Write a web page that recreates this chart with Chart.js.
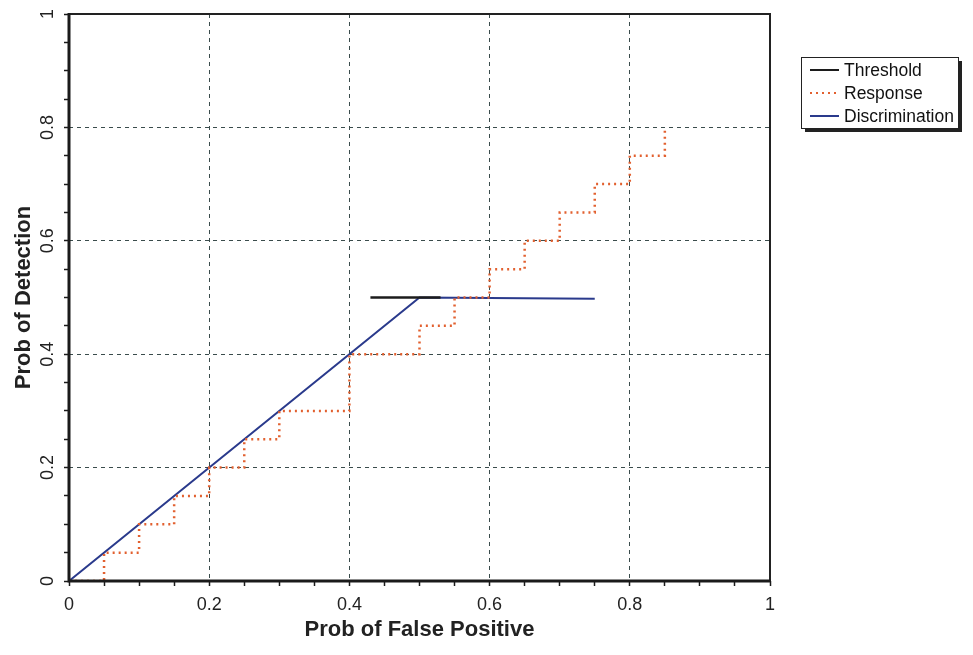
<!DOCTYPE html>
<html>
<head>
<meta charset="utf-8">
<script src="https://cdn.jsdelivr.net/npm/chart.js@4/dist/chart.umd.min.js"></script>
<style>
  body { margin: 0; background: #fff; }
  canvas { display: block; }
</style>
</head>
<body>
<canvas id="rocChart" width="973" height="655"></canvas>
<script>
// values
const seriesNames = ['Threshold', 'Response', 'Discrimination'];

const thresholdX = [0.43, 0.53];
const thresholdY = [0.5, 0.5];

const responseX = [0, 0.05, 0.05, 0.1, 0.1, 0.15, 0.15, 0.2, 0.2, 0.25, 0.25, 0.3, 0.3, 0.4, 0.4,
                   0.5, 0.5, 0.55, 0.55, 0.6, 0.6, 0.65, 0.65, 0.7, 0.7, 0.75, 0.75, 0.8, 0.8, 0.85, 0.85];
const responseY = [0, 0, 0.05, 0.05, 0.1, 0.1, 0.15, 0.15, 0.2, 0.2, 0.25, 0.25, 0.3, 0.3, 0.4,
                   0.4, 0.45, 0.45, 0.5, 0.5, 0.55, 0.55, 0.6, 0.6, 0.65, 0.65, 0.7, 0.7, 0.75, 0.75, 0.8];

const discrimX = [0, 0.5, 0.75];
const discrimY = [0, 0.5, 0.498];

const tickLabelsX = ['0', '0.2', '0.4', '0.6', '0.8', '1'];
const tickLabelsY = ['0', '0.2', '0.4', '0.6', '0.8', '1'];

const FONT = "'Liberation Sans', Arial, sans-serif";

function toPoints(xs, ys) {
    return xs.map((x, i) => ({ x: x, y: ys[i] }));
}

function isMajor(v) {
    const r = v / 0.2;
    return Math.abs(r - Math.round(r)) < 1e-6;
}

function majorLabel(v, labels) {
    if (!isMajor(v)) return '';
    return labels[Math.round(v / 0.2)];
}

function gridColor(ctx) {
    const v = ctx.tick ? ctx.tick.value : 0;
    if (!isMajor(v) || v < 1e-6 || v > 1 - 1e-6) return 'rgba(0,0,0,0)';
    return '#3a4c4c';
}

// axis frame, rotated y tick labels and the boxed legend
const chartDecor = {
    id: 'chartDecor',
    afterDraw(chart) {
        const { ctx, chartArea: a } = chart;
        ctx.save();

        ctx.strokeStyle = '#222';
        ctx.lineWidth = 2;
        ctx.beginPath();
        ctx.moveTo(a.left, a.top);
        ctx.lineTo(a.right, a.top);
        ctx.lineTo(a.right, a.bottom);
        ctx.stroke();

        // heavy left and bottom axis lines
        ctx.strokeStyle = '#1a1a1a';
        ctx.lineWidth = 3;
        ctx.beginPath();
        ctx.moveTo(a.left, a.top - 1);
        ctx.lineTo(a.left, a.bottom);
        ctx.lineTo(a.right + 1, a.bottom);
        ctx.stroke();

        // y tick labels, rotated like the original
        const yScale = chart.scales.y;
        ctx.fillStyle = '#222';
        ctx.font = '18px ' + FONT;
        ctx.textAlign = 'center';
        ctx.textBaseline = 'middle';
        yScale.ticks.forEach(t => {
            const label = majorLabel(t.value, tickLabelsY);
            if (!label) return;
            const py = yScale.getPixelForValue(t.value);
            ctx.save();
            ctx.translate(48, py);
            ctx.rotate(-Math.PI / 2);
            ctx.fillText(label, 0, 0);
            ctx.restore();
        });

        // legend box with drop shadow
        const bx = 801, by = 57, bw = 157, bh = 71;
        ctx.fillStyle = '#222';
        ctx.fillRect(bx + 4, by + 4, bw, bh);
        ctx.fillStyle = '#fff';
        ctx.fillRect(bx, by, bw, bh);
        ctx.strokeStyle = '#222';
        ctx.lineWidth = 1;
        ctx.strokeRect(bx + 0.5, by + 0.5, bw, bh);

        ctx.font = '17.5px ' + FONT;
        ctx.textAlign = 'left';
        chart.data.datasets.forEach((ds, i) => {
            const ly = 70 + i * 23;
            ctx.strokeStyle = ds.borderColor;
            ctx.lineWidth = 2;
            ctx.setLineDash(ds.borderDash || []);
            ctx.beginPath();
            ctx.moveTo(810, ly);
            ctx.lineTo(839, ly);
            ctx.stroke();
            ctx.setLineDash([]);
            ctx.fillStyle = '#111';
            ctx.fillText(ds.label, 844, ly + 1);
        });

        ctx.restore();
    }
};

const gridOpts = {
    color: gridColor,
    lineWidth: 1,
    drawTicks: true,
    tickLength: 5,
    tickColor: '#1a1a1a',
    tickWidth: 1.5,
    tickBorderDash: []
};

new Chart(document.getElementById('rocChart'), {
    type: 'scatter',
    data: {
        datasets: [
            {
                label: seriesNames[0],
                data: toPoints(thresholdX, thresholdY),
                showLine: true,
                borderColor: '#1c1c1c',
                borderWidth: 2.5,
                pointRadius: 0
            },
            {
                label: seriesNames[1],
                data: toPoints(responseX, responseY),
                showLine: true,
                borderColor: '#e2602f',
                borderWidth: 2.5,
                borderDash: [2, 4],
                pointRadius: 0
            },
            {
                label: seriesNames[2],
                data: toPoints(discrimX, discrimY),
                showLine: true,
                borderColor: '#2a3a8c',
                borderWidth: 2,
                pointRadius: 0
            }
        ]
    },
    options: {
        responsive: false,
        animation: false,
        devicePixelRatio: 1,
        layout: { padding: { top: 14, right: 203, left: 0, bottom: 0 } },
        plugins: {
            legend: { display: false },
            tooltip: { enabled: false }
        },
        scales: {
            x: {
                type: 'linear',
                min: 0,
                max: 1,
                afterFit(scale) { scale.height = 74; },
                border: { display: false, dash: [4, 4] },
                grid: gridOpts,
                ticks: {
                    stepSize: 0.05,
                    autoSkip: false,
                    maxRotation: 0,
                    padding: 8,
                    color: '#222',
                    font: { family: FONT, size: 18 },
                    callback: (v) => majorLabel(v, tickLabelsX)
                },
                title: {
                    display: true,
                    text: 'Prob of False Positive',
                    color: '#222',
                    font: { family: FONT, size: 22, weight: 'bold' },
                    padding: { top: 0, bottom: 12 }
                }
            },
            y: {
                type: 'linear',
                min: 0,
                max: 1,
                afterFit(scale) { scale.width = 69; },
                border: { display: false, dash: [4, 4] },
                grid: gridOpts,
                ticks: {
                    stepSize: 0.05,
                    display: false
                },
                title: {
                    display: true,
                    text: 'Prob of Detection',
                    color: '#222',
                    font: { family: FONT, size: 22, weight: 'bold' },
                    padding: { top: 11, bottom: 0 }
                }
            }
        }
    },
    plugins: [chartDecor]
});
</script>
</body>
</html>
